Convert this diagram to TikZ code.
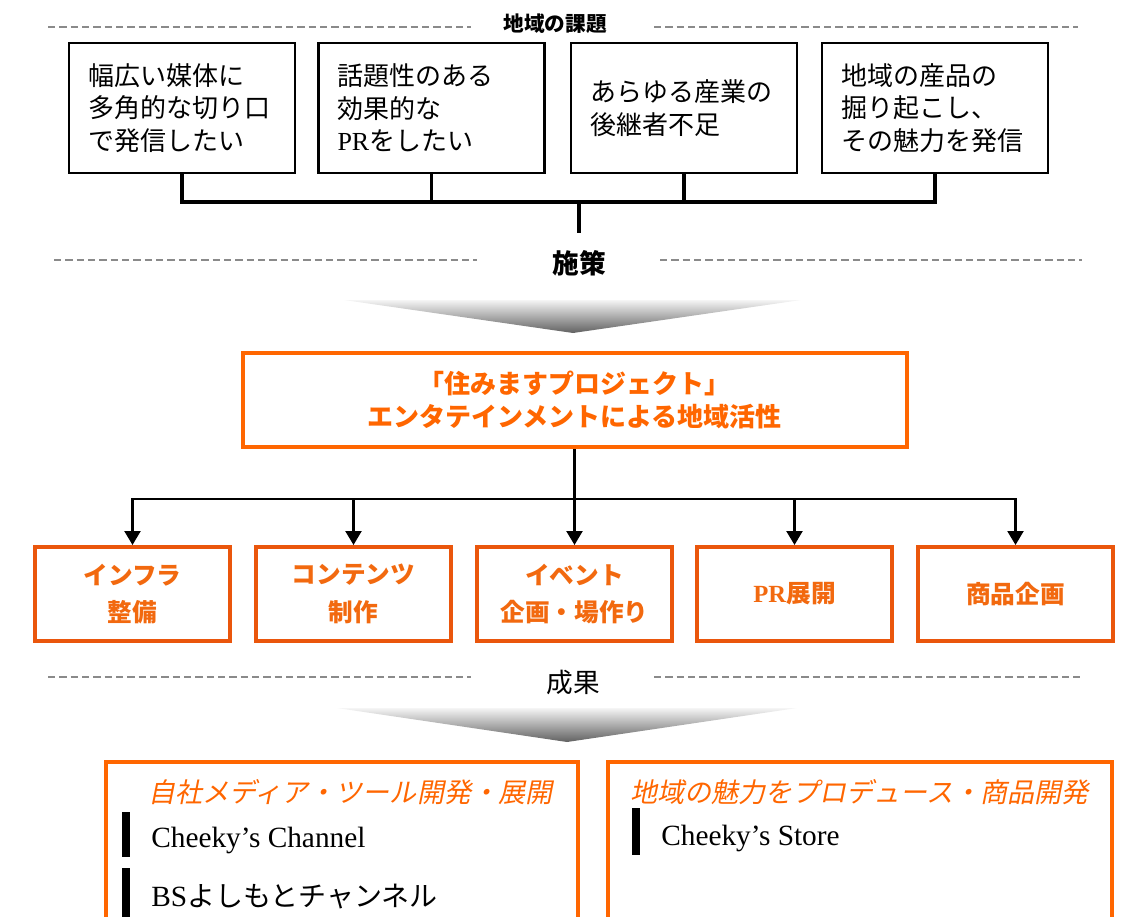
\documentclass[tikz,border=0pt]{standalone}
\usepackage{fontspec}
\setmainfont{Liberation Serif}
\newfontfamily\cjk{Noto Sans CJK JP}
\newfontfamily\cjkit[FakeSlant=0.2]{Noto Sans CJK JP}
\usetikzlibrary{arrows.meta}
\definecolor{plan}{HTML}{FF6600}
\definecolor{measure}{HTML}{EA560C}
\definecolor{measuretext}{HTML}{F2690F}
\definecolor{sepgray}{HTML}{8A8A8A}
\begin{document}
\begin{tikzpicture}[x=0.75pt,y=-0.75pt,
    issue/.style={draw,line width=1.9pt,align=left,text width=141pt,inner xsep=14.25pt,
      minimum height=97.5pt,font=\cjk\fontsize{19.5}{24.5}\selectfont},
    project/.style={draw=plan,line width=3pt,align=center,text=plan,minimum width=498pt,
      minimum height=70.5pt,font=\cjk\bfseries\fontsize{19.5}{25}\selectfont},
    measurebox/.style={draw=measure,line width=3pt,align=center,text=measuretext,minimum width=146pt,
      minimum height=70.5pt,font=\cjk\bfseries\fontsize{18.5}{28}\selectfont},
    result/.style={draw=plan,line width=2.6pt},
    head/.style={anchor=west,inner sep=0pt,text=plan,font=\cjkit\fontsize{20.3}{24}\selectfont},
    item/.style={anchor=west,inner sep=0pt,font=\fontsize{22}{26}\selectfont},
    sep/.style={sepgray,line width=1.5pt,dash pattern=on 5.5pt off 3pt},
    conn/.style={line width=2.5pt},
    arr/.style={line width=1.7pt,-{Triangle[length=10.5pt,width=12pt]}},
    bar/.style={line width=6pt}]
  \useasboundingbox (0,0) rectangle (1124,917);
  \clip (0,0) rectangle (1124,917);
  \foreach \y/\a/\b/\c/\d in{27/48/471/654/1078, 260/54/477/660/1082, 677/48/471/654/1080}{
    \draw[sep] (\a,\y) -- (\b,\y) (\c,\y) -- (\d,\y);
  }
  \node[font=\cjk\bfseries\fontsize{15.5}{18}\selectfont](L1) at (555,24) {地域の課題};
  \node[font=\cjk\bfseries\fontsize{20}{24}\selectfont](L2) at (579,263) {施策};
  \node[font=\cjk\fontsize{20}{24}\selectfont](L3) at (573,682) {成果};
  \foreach \x/\c/\t in{1/182/{幅広い媒体に\\多角的な切り口\\で発信したい}, 2/431.5/{話題性のある\\効果的な\\\textrm{PR}をしたい},
      3/684/{あらゆる産業の\\後継者不足}, 4/935/{地域の産品の\\掘り起こし、\\その魅力を発信}}{
    \node[issue](B\x) at (\c,108) {\t};
  }
  \coordinate (J) at (579,202);
  \coordinate (Jb) at (579,233);
  \foreach \x in{1,...,4}{
    \draw[conn] (B\x.south) |- (J);
  }
  \draw[conn] (J) -- (Jb);
  \shade[top color=gray!8,bottom color=black!62] (344,300) -- (801,300) -- (573,333) -- cycle;
  \node[project](M) at (574.5,400) {「住みますプロジェクト」\\エンタテインメントによる地域活性};
  \foreach \x/\c/\t in{1/132.5/{インフラ\\整備}, 2/353.5/{コンテンツ\\制作}, 3/574.5/{イベント\\企画・場作り},
      4/794.5/{\textrm{PR}展開}, 5/1015.5/{商品企画}}{
    \node[measurebox](S\x) at (\c,594) {\t};
    \draw[arr] (M.south) -- ++(0,50) -| (S\x.north);
  }
  \shade[top color=gray!8,bottom color=black!62] (337,708) -- (797,708) -- (567,742) -- cycle;
  \node[result,minimum width=354pt,minimum height=150pt](R1) at (342,862) {};
  \node[result,minimum width=378pt,minimum height=150pt](R2) at (860,862) {};
  \node[head](H1) at (148,792) {自社メディア・ツール開発・展開};
  \node[head](H2) at (630,792) {地域の魅力をプロデュース・商品開発};
  \node[item](I1) at (151,840) {Cheeky’s Channel};
  \node[item](I2) at (151,897) {BS{\cjk\fontsize{21}{26}\selectfont よしもとチャンネル}};
  \node[item](I3) at (661,838) {Cheeky’s Store};
  \draw[bar] (126,812) -- (126,857) (126,868) -- (126,925) (635.5,808) -- (635.5,855);
\end{tikzpicture}
\end{document}
